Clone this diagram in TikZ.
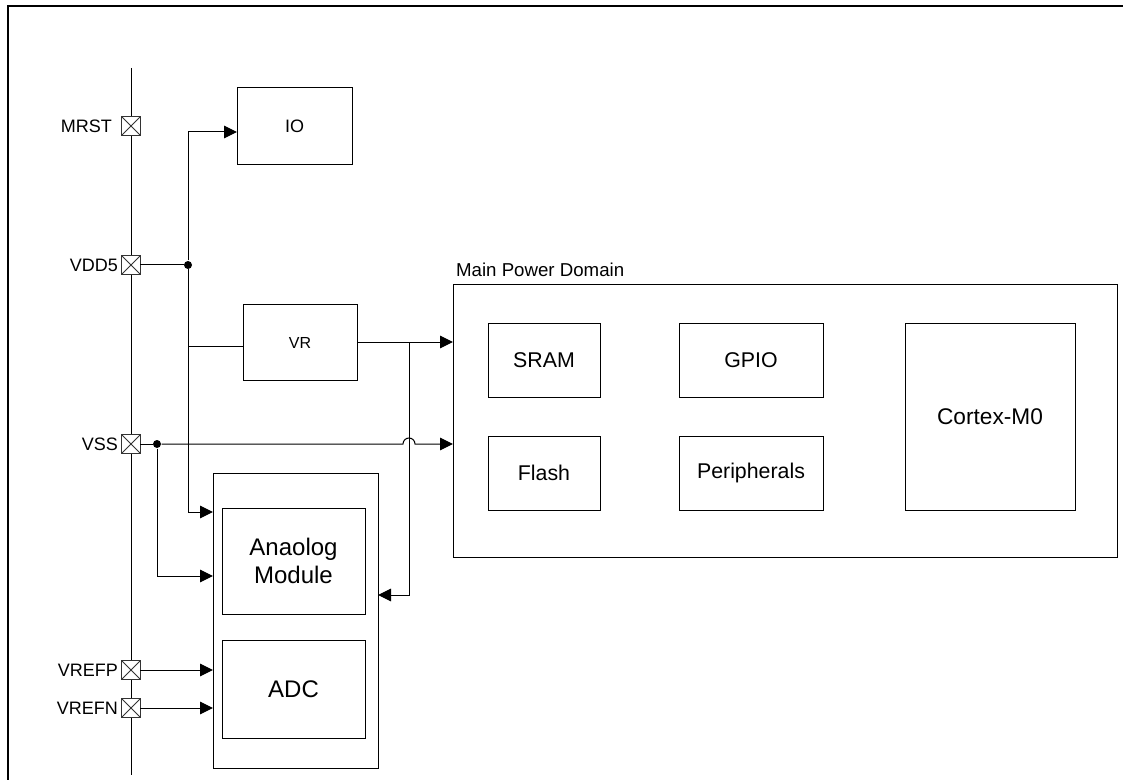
\documentclass[tikz,border=0pt]{standalone}
\usepackage{fontspec}
\setmainfont{Liberation Sans}
\usetikzlibrary{arrows.meta,positioning}

\begin{document}
\begin{tikzpicture}[
    x=0.75pt, y=-0.75pt,
    line width=0.75pt,
    block/.style={rectangle, draw=black, inner sep=0pt, outer sep=0pt,
                  align=center, font=\fontsize{16}{19}\selectfont},
    bigblock/.style={block, font=\fontsize{18}{21}\selectfont},
    smallblock/.style={block, font=\fontsize{13.5}{16}\selectfont},
    pad/.style={rectangle, draw=black!80, fill=white, minimum size=14pt,
                inner sep=0pt, outer sep=0pt,
                path picture={\draw[black!80] (path picture bounding box.north west) -- (path picture bounding box.south east)
                                              (path picture bounding box.north east) -- (path picture bounding box.south west);}},
    pin/.style={font=\fontsize{13.5}{16}\selectfont, inner sep=0pt},
    dot/.style={circle, fill=black, minimum size=6pt, inner sep=0pt},
    >={Triangle[length=9.75pt, width=9.5pt]},
]
    \useasboundingbox (0,0) rectangle (1123,780);

    % Frame
    \draw[line width=1.6pt] (8,780) -- (8,6) -- (1123,6);

    % Pin bus and pads
    \coordinate (bustop) at (131,68);
    \coordinate (busbot) at (131,775);
    \draw (bustop) -- (busbot);
    \node[pad] (mrst)  at (131,126) {};
    \node[pad] (vdd)   at (131,265) {};
    \node[pad] (vss)   at (131,444) {};
    \node[pad] (vrefp) at (131,670) {};
    \node[pad] (vrefn) at (131,708) {};
    \node[pin, left=7pt of mrst]  {MRST};
    \node[pin, left=2.5pt of vdd]   {VDD5};
    \node[pin, left=2.5pt of vss]   {VSS};
    \node[pin, left=2.5pt of vrefp] {VREFP};
    \node[pin, left=2.5pt of vrefn] {VREFN};

    % IO and regulator
    \node[smallblock, minimum width=86.25pt, minimum height=57.75pt] (io) at (294.5,126.5) {IO};
    \node[smallblock, minimum width=85.5pt, minimum height=56.25pt, font=\fontsize{12}{14}\selectfont] (vr) at (300,342.5) {VR};

    % Main power domain
    \node[block, minimum width=498pt, minimum height=204pt] (mpd) at (785,421) {};
    \node[pin, anchor=south west, font=\fontsize{14}{16}\selectfont] at ([xshift=2pt, yshift=6pt]mpd.north west) {Main Power Domain};
    \node[block, minimum width=84pt, minimum height=55.5pt] (sram) at (544,360) {SRAM};
    \node[block, minimum width=108pt, minimum height=55.5pt] (gpio) at (751,360) {GPIO};
    \node[block, minimum width=84pt, minimum height=55.5pt] (flash) at (544,473) {Flash};
    \node[block, minimum width=108pt, minimum height=55.5pt] (periph) at (751,473) {Peripherals};
    \node[block, minimum width=127.5pt, minimum height=140.25pt, font=\fontsize{17}{20}\selectfont] (cortex) at (990,416.5) {Cortex-M0};

    % Analog part
    \node[block, minimum width=123.75pt, minimum height=221.25pt] (ana) at (295.5,620.5) {};
    \node[bigblock, minimum width=107.25pt, minimum height=79.5pt] (amod) at (293.5,561) {Anaolog\\Module};
    \node[bigblock, minimum width=107.25pt, minimum height=73.5pt] (adc) at (293.5,689) {ADC};

    % Junctions
    \node[dot] (vdddot) at (188,265) {};
    \node[dot] (vssdot) at (157,444) {};
    \coordinate (ioin)   at (io.west |- 0,132);
    \coordinate (vrin)   at (vr.west |- 0,346);
    \coordinate (vrout)  at (vr.east |- 0,342);
    \coordinate (vrbr)   at (409,342);
    \coordinate (anavdd) at (ana.west |- 0,512);
    \coordinate (anavss) at (ana.west |- 0,576);
    \coordinate (anavr)  at (ana.east |- 0,595);

    % Connectors
    \draw (vdd) -- (vdddot);
    \draw[->] (vdddot) |- (ioin);
    \draw[->] (vdddot) |- (anavdd);
    \draw (vdddot |- vrin) -- (vrin);
    \draw[->] (vrout) -- (mpd.west |- vrout);
    \draw[->] (vrbr) |- (anavr);
    \draw (vss) -- (vssdot);
    \draw[->] (vssdot) -- ([xshift=-4.5pt]vrbr |- vssdot)
        arc[start angle=180, end angle=0, radius=4.5pt] -- (mpd.west |- vssdot);
    \draw[->] (vssdot) |- (anavss);
    \draw[->] (vrefp) -- (ana.west |- vrefp);
    \draw[->] (vrefn) -- (ana.west |- vrefn);
\end{tikzpicture}
\end{document}
